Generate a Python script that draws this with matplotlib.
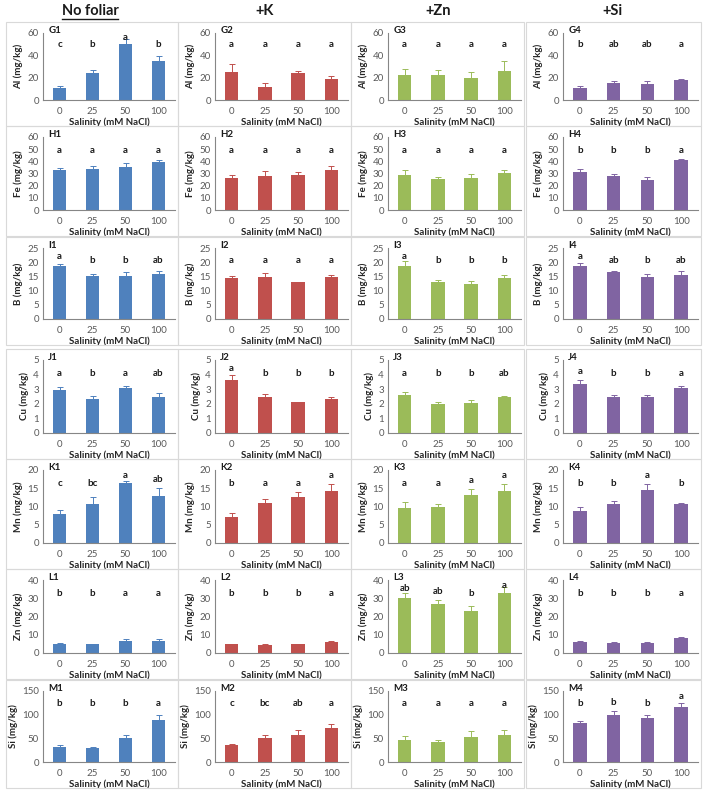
import matplotlib
matplotlib.use('Agg')
import matplotlib.pyplot as plt
from matplotlib.patches import Rectangle
from matplotlib.lines import Line2D

plt.rcParams['font.family'] = ['Lato', 'DejaVu Sans']

# ---------------- data ----------------
salinity = ['0', '25', '50', '100']
treatments = ['No foliar', '+K', '+Zn', '+Si']
bar_colors = ['#4F81BD', '#C0504D', '#9BBB59', '#8064A2']
elements = ['Al', 'Fe', 'B', 'Cu', 'Mn', 'Zn', 'Si']
row_codes = ['G', 'H', 'I', 'J', 'K', 'L', 'M']
y_max = [60, 60, 25, 5, 20, 40, 150]
y_step = [20, 10, 5, 1, 5, 10, 50]

al_mean = [[11, 24, 50, 35], [25, 12, 24.5, 19], [22, 22.5, 20, 26], [10.5, 15.5, 14.5, 17.5]]
al_err = [[1.5, 3, 5, 4], [7, 3, 1.5, 2.5], [6, 4.5, 5, 9], [2, 1.5, 2.5, 1]]
al_sig = [['c', 'b', 'a', 'b'], ['a', 'a', 'a', 'a'], ['a', 'a', 'a', 'a'], ['b', 'ab', 'ab', 'a']]

fe_mean = [[32.5, 33.5, 35, 39.5], [26, 28, 29, 33], [29, 25.5, 26.5, 30.5], [31, 28, 25, 41]]
fe_err = [[2, 3, 3.5, 2], [2.5, 4, 2, 3], [3.5, 2, 3.5, 2.5], [2.5, 2, 2.5, 1]]
fe_sig = [['a', 'a', 'a', 'a'], ['a', 'a', 'a', 'a'], ['a', 'a', 'a', 'a'], ['b', 'b', 'b', 'a']]

b_mean = [[18.5, 15.3, 15.3, 15.8], [14.5, 14.9, 12.9, 14.7], [18.7, 13, 12.5, 14.5], [18.5, 16.5, 14.8, 15.6]]
b_err = [[0.8, 0.6, 1.2, 1.2], [0.8, 1.2, 0.3, 0.8], [1.8, 0.9, 1, 1], [1.3, 0.5, 1.2, 1.2]]
b_sig = [['a', 'b', 'b', 'ab'], ['a', 'a', 'a', 'a'], ['a', 'b', 'b', 'b'], ['a', 'ab', 'b', 'ab']]

cu_mean = [[2.95, 2.3, 3.05, 2.5], [3.6, 2.45, 2.1, 2.3], [2.6, 2.0, 2.05, 2.45], [3.35, 2.5, 2.45, 3.05]]
cu_err = [[0.2, 0.25, 0.2, 0.25], [0.4, 0.2, 0.05, 0.2], [0.2, 0.15, 0.2, 0.1], [0.25, 0.08, 0.15, 0.2]]
cu_sig = [['a', 'b', 'a', 'ab'], ['a', 'b', 'b', 'b'], ['a', 'b', 'b', 'ab'], ['a', 'b', 'b', 'a']]

mn_mean = [[8, 10.8, 16.5, 13], [7.2, 11, 12.6, 14.3], [9.5, 9.8, 13.2, 14.3], [8.9, 10.6, 14.6, 10.6]]
mn_err = [[1, 1.8, 0.4, 2], [1, 1, 1.3, 1.8], [1.7, 1, 1.5, 2], [1, 1, 1.5, 0.4]]
mn_sig = [['c', 'bc', 'a', 'ab'], ['b', 'a', 'a', 'a'], ['a', 'a', 'a', 'a'], ['b', 'b', 'a', 'b']]

zn_mean = [[5, 4.8, 6.8, 6.8], [4.8, 4.6, 4.8, 6], [30, 27, 23, 33], [6, 5.5, 5.5, 8]]
zn_err = [[0.5, 0.4, 0.6, 0.8], [0.4, 0.3, 0.4, 0.5], [3, 2, 3, 3], [0.6, 0.4, 0.4, 0.5]]
zn_sig = [['b', 'b', 'a', 'a'], ['b', 'b', 'b', 'a'], ['ab', 'ab', 'b', 'a'], ['b', 'b', 'b', 'a']]

si_mean = [[32, 30, 50, 88], [35, 50, 58, 72], [47, 43, 53, 58], [82, 100, 92, 117]]
si_err = [[3, 2, 8, 12], [3, 8, 10, 8], [8, 3, 12, 10], [5, 8, 8, 8]]
si_sig = [['b', 'b', 'b', 'a'], ['c', 'bc', 'ab', 'a'], ['a', 'a', 'a', 'a'], ['b', 'b', 'b', 'a']]

all_mean = [al_mean, fe_mean, b_mean, cu_mean, mn_mean, zn_mean, si_mean]
all_err = [al_err, fe_err, b_err, cu_err, mn_err, zn_err, si_err]
all_sig = [al_sig, fe_sig, b_sig, cu_sig, mn_sig, zn_sig, si_sig]

# ---------------- layout (pixels) ----------------
W, H = 708, 796
fig = plt.figure(figsize=(W / 100, H / 100), dpi=100)
fig.patch.set_facecolor('white')

row_top = [33, 137, 248, 360, 470, 580, 691]
row_bot = [100, 210, 319, 433, 543, 653, 762]
col_left = [43, 215, 388, 563]
col_right = [175, 348, 521, 698]

def fx(x):
    return x / W

def fy(y):
    return 1 - y / H

axis_gray = '#868686'
text_gray = '#595959'

for r in range(7):
    for c in range(4):
        l, rr, t, b = col_left[c], col_right[c], row_top[r], row_bot[r]
        # chart frame
        bl = l - 37
        bt = t - 11
        br = rr + 3
        bb = b + 26
        fig.add_artist(Rectangle((fx(bl), fy(bb)), fx(br - bl), fy(bt) - fy(bb),
                                 transform=fig.transFigure, fill=False,
                                 edgecolor='#d9d9d9', lw=0.8))
        ax = fig.add_axes([fx(l), fy(b), fx(rr - l), fy(t) - fy(b)])
        means = all_mean[r][c]
        errs = all_err[r][c]
        sigs = all_sig[r][c]
        xs = range(len(salinity))
        col = bar_colors[c]
        ax.bar(xs, means, width=0.4, color=col, zorder=2)
        ax.errorbar(xs, means, yerr=[[0] * 4, errs], fmt='none', ecolor=col,
                    elinewidth=0.7, capsize=2, capthick=0.7, zorder=3)
        ym = y_max[r]
        for i in xs:
            cap = 0.82 if i == 0 else 0.86
            ty = min(max(0.76 * ym, means[i] + errs[i] + 0.06 * ym), cap * ym)
            ax.text(i, ty, sigs[i], ha='center', va='bottom', fontsize=7,
                    fontweight='bold', color='#1a1a1a')
        ax.set_xlim(-0.5, 3.5)
        ax.set_ylim(0, ym)
        ax.set_yticks(range(0, ym + 1, y_step[r]))
        ax.set_xticks(list(xs))
        ax.set_xticklabels(salinity)
        ax.tick_params(axis='both', labelsize=7, colors=text_gray, length=0, pad=3)
        ax.tick_params(axis='x', pad=5)
        for s in ['top', 'right']:
            ax.spines[s].set_visible(False)
        for s in ['left', 'bottom']:
            ax.spines[s].set_color(axis_gray)
            ax.spines[s].set_linewidth(0.8)
        ax.set_ylabel(f'{elements[r]} (mg/kg)', fontsize=7, fontweight='bold',
                      color='#262626', labelpad=3)
        ax.set_xlabel('Salinity (mM NaCl)', fontsize=7, fontweight='bold',
                      color='#262626', labelpad=1)
        ax.text(0.04, 1.03, f'{row_codes[r]}{c + 1}', transform=ax.transAxes,
                ha='left', va='center', fontsize=7,
                fontweight='bold', color='#1a1a1a')
        ax.patch.set_alpha(0)

# column titles
title_x = [90, 265, 438, 612]
for c, name in enumerate(treatments):
    fig.text(fx(title_x[c]), fy(11), name, ha='center', va='center',
             fontsize=10.5, fontweight='bold', color='#1a1a1a')
    if c == 0:
        fig.add_artist(Line2D([fx(title_x[c] - 28), fx(title_x[c] + 28)],
                              [fy(19), fy(19)], transform=fig.transFigure,
                              color='#1a1a1a', lw=1))

fig.savefig('out.png', dpi=100, facecolor='white')
